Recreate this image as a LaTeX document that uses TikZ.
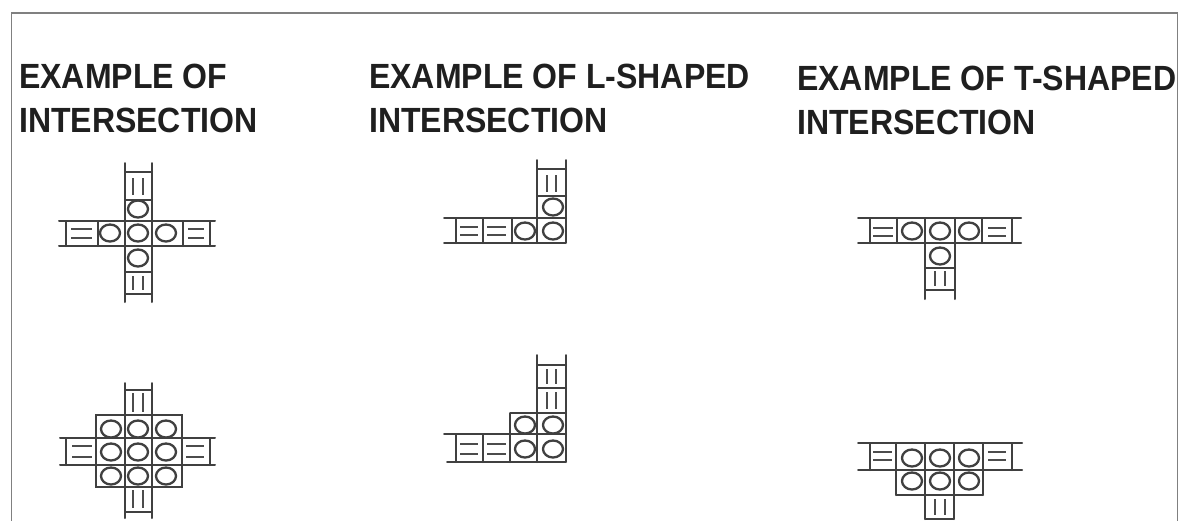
\documentclass[tikz,border=0pt]{standalone}
\usepackage{fontspec}
\setmainfont{Liberation Sans}
\tikzset{
  x=1pt,y=-1pt,
  plan/.style={draw=black!75,line width=2pt,line cap=round},
  thin plan/.style={draw=black!70,line width=1.9pt},
  rim/.style={draw=black!50,line width=1.4pt},
  seat/.style={draw=black!75,line width=2.3pt},
  title/.style={anchor=west,inner sep=0pt,font=\bfseries\fontsize{35}{35}\selectfont,text=black!88}
}
% circle at (x,y)
\newcommand{\seatat}[2]{\draw[seat] (#1,#2) ellipse [x radius=10,y radius=8.5];}
% horizontal ladder rungs
\newcommand{\hlad}[4]{\draw[thin plan] (#1,#3) -- (#2,#3) (#1,#4) -- (#2,#4);}
% vertical ladder rungs
\newcommand{\vlad}[4]{\draw[thin plan] (#1,#3) -- (#1,#4) (#2,#3) -- (#2,#4);}
\begin{document}
\begin{tikzpicture}
\useasboundingbox (0,0) rectangle (1181,520);
\fill[white] (0,0) rectangle (1181,520);
\draw[rim] (11.5,525) -- (11.5,13) -- (1177.5,13) -- (1177.5,525);
\node[title] (t1a) at (19,76) {\scalebox{0.915}[1]{EXAMPLE OF}};
\node[title] (t1b) at (19,120) {\scalebox{0.915}[1]{INTERSECTION}};
\node[title] (t2a) at (369,76) {\scalebox{0.915}[1]{EXAMPLE OF L-SHAPED}};
\node[title] (t2b) at (369,120) {\scalebox{0.915}[1]{INTERSECTION}};
\node[title] (t3a) at (797,78) {\scalebox{0.915}[1]{EXAMPLE OF T-SHAPED}};
\node[title] (t3b) at (797,122) {\scalebox{0.915}[1]{INTERSECTION}};

% --- Diagram 1: cross
\draw[plan] (125,163)--(125,302) (152,163)--(152,302) (59,221)--(215,221) (59,246)--(215,246);
\draw[plan] (125,172)--(152,172) (125,200)--(152,200) (125,272)--(152,272) (125,294)--(152,294);
\draw[plan] (66,221)--(66,246) (98,221)--(98,246) (183,221)--(183,246) (210,221)--(210,246);
\vlad{133}{143}{178}{195}\vlad{133}{143}{276}{290}
\hlad{71}{92}{229}{238}\hlad{188}{204}{229}{238}
\seatat{138}{209}\seatat{110}{233}\seatat{138}{233}\seatat{166}{233}\seatat{138}{258}

% --- Diagram 2: cross with box
\draw[plan] (125,383)--(125,518) (152,383)--(152,518) (60,438)--(215,438) (60,465)--(215,465);
\draw[plan] (125,390)--(152,390) (125,512)--(152,512) (96,415) rectangle (182,487);
\draw[plan] (66,438)--(66,465) (210,438)--(210,465);
\vlad{133}{143}{393}{412}\vlad{133}{143}{490}{508}
\hlad{72}{92}{446}{457}\hlad{186}{204}{446}{457}
\foreach \yy in {429,452,476}{\foreach \xx in {111,138,166}{\seatat{\xx}{\yy}}}

% --- Diagram 3: L
\draw[plan] (537,160)--(537,243) (566,160)--(566,243) (444,218)--(537,218) (444,243)--(566,243);
\draw[plan] (537,169)--(566,169) (537,196)--(566,196) (537,218)--(566,218);
\draw[plan] (456,218)--(456,243) (483,218)--(483,243) (512,218)--(512,243);
\vlad{547}{556}{175}{192}
\hlad{460}{478}{227}{235}\hlad{487}{506}{227}{235}
\seatat{553}{207}\seatat{525}{231}\seatat{553}{231}

% --- Diagram 4: L with box
\draw[plan] (537,355)--(537,462) (566,355)--(566,462) (510,413)--(510,462) (510,413)--(566,413) (444,434)--(566,434) (447,462)--(566,462);
\draw[plan] (537,365)--(566,365) (537,388)--(566,388);
\draw[plan] (456,434)--(456,462) (483,434)--(483,462);
\vlad{547}{556}{369}{384}\vlad{547}{556}{392}{409}
\hlad{460}{478}{444}{454}\hlad{487}{506}{444}{454}
\foreach \yy in {425,449}{\foreach \xx in {525,553}{\seatat{\xx}{\yy}}}

% --- Diagram 5: T
\draw[plan] (858,218)--(1021,218) (858,243)--(1021,243) (925,218)--(925,299) (955,218)--(955,299);
\draw[plan] (870,218)--(870,243) (897,218)--(897,243) (982,218)--(982,243) (1012,218)--(1012,243);
\draw[plan] (925,268)--(955,268) (925,290)--(955,290);
\vlad{935}{945}{271}{286}
\hlad{873}{893}{228}{236}\hlad{988}{1006}{228}{236}
\seatat{912}{231}\seatat{940}{231}\seatat{969}{231}\seatat{940}{256}

% --- Diagram 6: T with box
\draw[plan] (858,443)--(1022,443) (858,470)--(1022,470) (896,443)--(896,495) (983,443)--(983,495) (896,495)--(983,495);
\draw[plan] (925,443)--(925,519) (954,443)--(954,519) (925,519)--(954,519);
\draw[plan] (870,443)--(870,470) (1012,443)--(1012,470);
\vlad{935}{945}{499}{515}
\hlad{873}{892}{452}{460}\hlad{988}{1006}{452}{460}
\foreach \yy in {458,481}{\foreach \xx in {912,940,969}{\seatat{\xx}{\yy}}}
\end{tikzpicture}
\end{document}
